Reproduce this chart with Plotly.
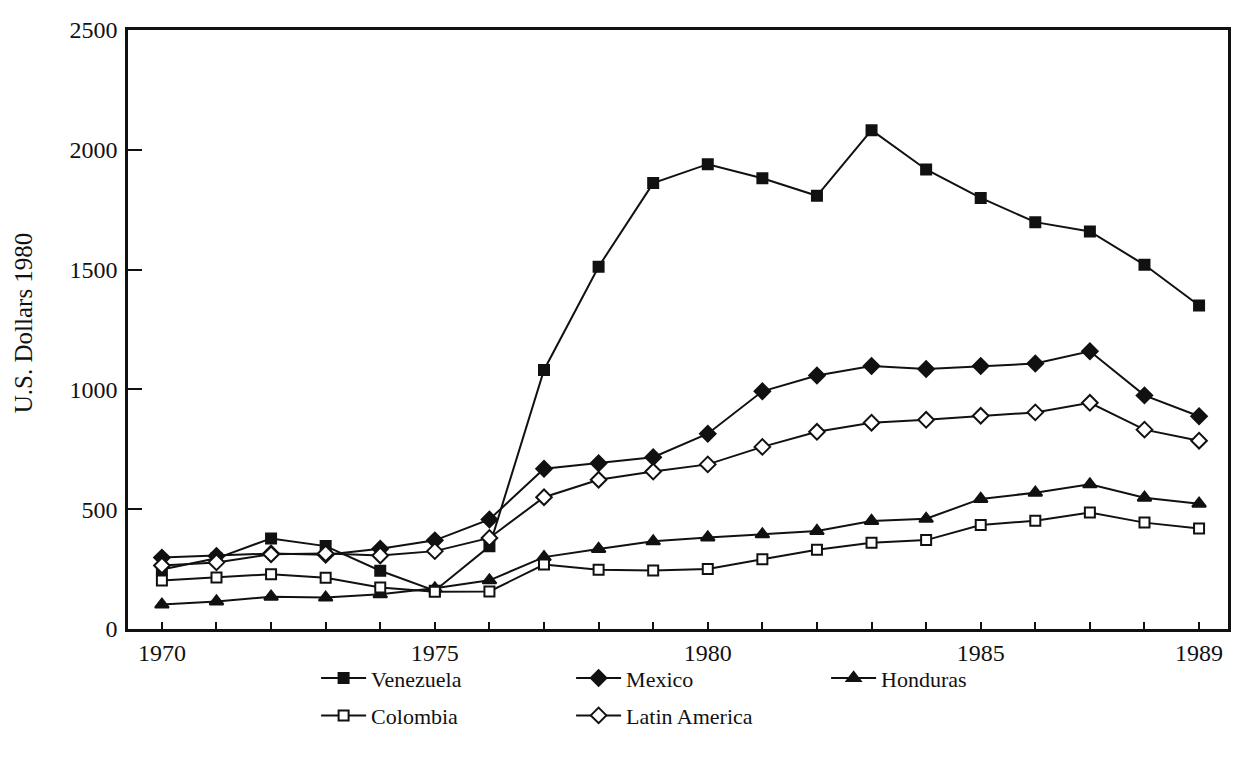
import plotly.graph_objects as go

years = list(range(1970, 1990))
venezuela = [248, 295, 378, 346, 243, 160, 345, 1081, 1512, 1861, 1940, 1881, 1808, 2082, 1918, 1799, 1698, 1659, 1520, 1350]
mexico = [298, 305, 315, 310, 335, 370, 457, 669, 692, 717, 815, 992, 1058, 1098, 1085, 1098, 1108, 1159, 975, 888]
honduras = [102, 115, 135, 131, 145, 170, 203, 300, 334, 366, 382, 395, 409, 451, 460, 543, 569, 604, 548, 523]
colombia = [202, 215, 229, 214, 173, 155, 157, 269, 247, 244, 250, 291, 331, 360, 371, 434, 452, 486, 444, 419]
latin_america = [265, 278, 312, 315, 307, 325, 380, 550, 623, 657, 687, 760, 823, 861, 873, 890, 904, 944, 832, 786]

x_tick_vals = years
x_tick_text = ["1970", "", "", "", "", "1975", "", "", "", "", "1980", "", "", "", "", "1985", "", "", "", "1989"]
y_tick_vals = [0, 500, 1000, 1500, 2000, 2500]

FONT = "Liberation Serif"
BLACK = "#111111"

series = [
    ("Venezuela", venezuela, "square", BLACK, 10, "legend"),
    ("Mexico", mexico, "diamond", BLACK, 12, "legend"),
    ("Honduras", honduras, "triangle-up", BLACK, 12, "legend"),
    ("Colombia", colombia, "square", "white", 10, "legend2"),
    ("Latin America", latin_america, "diamond", "white", 12, "legend2"),
]

fig = go.Figure()
for name, vals, sym, fill, size, leg in series:
    fig.add_trace(go.Scatter(
        x=years, y=vals, name=name, mode="lines+markers",
        line=dict(color=BLACK, width=2),
        marker=dict(symbol=sym, size=size, color=fill, line=dict(color=BLACK, width=2)),
        legend=leg,
    ))

legend_common = dict(
    orientation="h", xanchor="left", yanchor="top",
    font=dict(family=FONT, size=22, color=BLACK),
    bgcolor="rgba(0,0,0,0)", entrywidth=195, itemwidth=45,
    tracegroupgap=0,
)

fig.update_layout(
    width=1225, height=748,
    margin=dict(l=120, r=2, t=22, b=127),
    paper_bgcolor="white", plot_bgcolor="white",
    font=dict(family=FONT, size=24, color=BLACK),
    showlegend=True,
    legend=dict(x=0.171, y=-0.047, **legend_common),
    legend2=dict(x=0.171, y=-0.1095, **legend_common),
    xaxis=dict(
        range=[1969.379, 1989.53], tickvals=x_tick_vals, ticktext=x_tick_text,
        ticks="inside", ticklen=7, tickwidth=2, tickcolor=BLACK,
        showline=True, linewidth=2.5, linecolor=BLACK, mirror=True,
        showgrid=False, zeroline=False, ticklabelstandoff=0,
        tickfont=dict(family=FONT, size=24, color=BLACK),
    ),
    yaxis=dict(
        range=[0, 2500], tickvals=y_tick_vals,
        ticks="inside", ticklen=14, tickwidth=2, tickcolor=BLACK,
        showline=True, linewidth=2.5, linecolor=BLACK, mirror=True,
        showgrid=False, zeroline=False, ticklabelstandoff=3,
        tickfont=dict(family=FONT, size=24, color=BLACK),
    ),
    annotations=[dict(
        text="U.S. Dollars 1980", xref="paper", yref="paper",
        x=-0.0943, y=0.511, xanchor="center", yanchor="middle",
        textangle=-90, showarrow=False,
        font=dict(family=FONT, size=25, color=BLACK),
    )],
)

fig.write_html("out.html")
